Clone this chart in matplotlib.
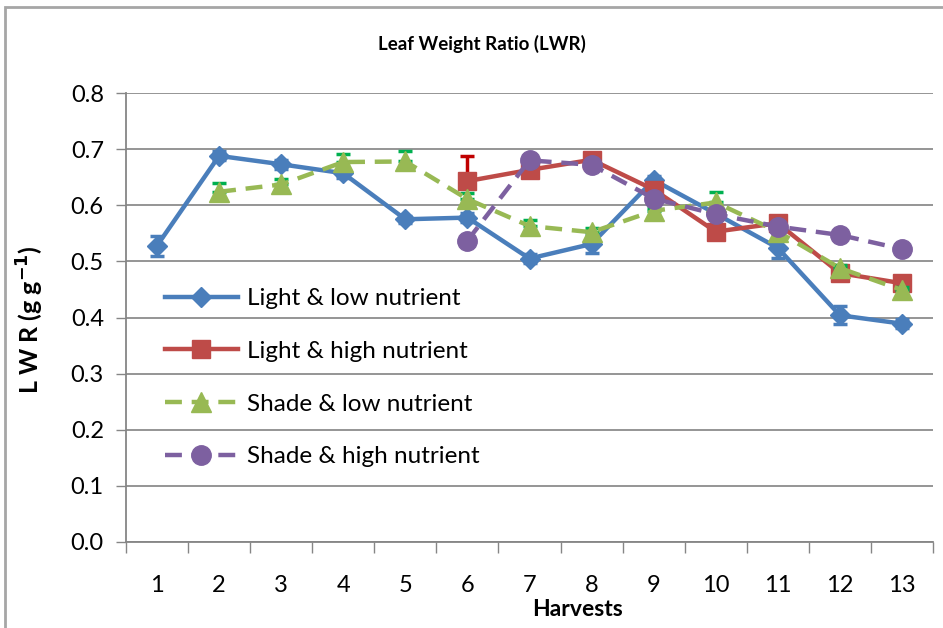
import matplotlib
matplotlib.use("Agg")
import matplotlib.pyplot as plt
from matplotlib.patches import Rectangle
from matplotlib.lines import Line2D

plt.rcParams['font.family'] = ['Lato', 'DejaVu Sans']

harvests = list(range(1, 14))
tick_labels = [str(h) for h in harvests]

# Light & low nutrient
x_ll = list(range(1, 14))
y_ll = [0.528, 0.688, 0.673, 0.657, 0.575, 0.578, 0.505, 0.531, 0.645, 0.585, 0.524, 0.404, 0.389]
e_ll = [0.018, 0.008, 0.008, 0.008, 0.006, 0.008, 0.008, 0.016, 0.008, 0.010, 0.018, 0.016, 0.008]

# Light & high nutrient
x_lh = list(range(6, 14))
y_lh = [0.643, 0.663, 0.681, 0.628, 0.553, 0.568, 0.479, 0.461]
e_lh = [0.045, 0.005, 0.005, 0.005, 0.005, 0.005, 0.005, 0.005]

# Shade & low nutrient
x_sl = list(range(2, 14))
y_sl = [0.624, 0.637, 0.677, 0.678, 0.611, 0.563, 0.552, 0.590, 0.605, 0.553, 0.488, 0.449]
e_sl = [0.015, 0.010, 0.015, 0.018, 0.010, 0.010, 0.008, 0.005, 0.018, 0.005, 0.005, 0.005]

# Shade & high nutrient
x_sh = list(range(6, 14))
y_sh = [0.537, 0.680, 0.672, 0.612, 0.584, 0.562, 0.547, 0.522]

series_names = ['Light & low nutrient', 'Light & high nutrient',
                'Shade & low nutrient', 'Shade & high nutrient']

W, H = 943, 628
fig = plt.figure(figsize=(W / 100, H / 100), dpi=100)
ax = fig.add_axes([126 / W, 1 - 542 / H, (933 - 126) / W, (542 - 93) / H])

# outer chart border
fig.patches.append(Rectangle((5 / W, -0.01), 1.0, 1 - 7 / H + 0.01, transform=fig.transFigure,
                             fill=False, edgecolor='#a6a6a6', linewidth=2))

blue, red, green, purple = '#4A7EBB', '#BE4B48', '#98B954', '#7D60A0'
dash = (0, (3.8, 2.2))

ax.errorbar(x_ll, y_ll, yerr=e_ll, color=blue, lw=3.2, marker='D', ms=10,
            capsize=5, elinewidth=2, capthick=2.5, zorder=3)
ax.errorbar(x_lh, y_lh, yerr=[[0] * len(e_lh), e_lh], color=red, lw=3.2, marker='s', ms=13,
            ecolor='#C00000', capsize=5, elinewidth=2.5, capthick=2.5, zorder=4)
ax.errorbar(x_sl, y_sl, yerr=[[0] * len(e_sl), e_sl], color=green, lw=3.2, marker='^', ms=14,
            ls=dash, ecolor='#00B050', capsize=5, elinewidth=2, capthick=2.5, zorder=5)
ax.plot(x_sh, y_sh, color=purple, lw=3.2, marker='o', ms=14, ls=dash, zorder=6)

handles = [
    Line2D([], [], color=blue, lw=3.2, marker='D', ms=10),
    Line2D([], [], color=red, lw=3.2, marker='s', ms=13),
    Line2D([], [], color=green, lw=3.2, marker='^', ms=14, ls=dash),
    Line2D([], [], color=purple, lw=3.2, marker='o', ms=14, ls=dash),
]

ax.set_xlim(0.5, 13.5)
ax.set_ylim(0, 0.8)
ax.set_yticks([i / 10 for i in range(9)])
ax.set_yticklabels([f'{i / 10:.1f}' for i in range(9)])
ax.set_xticks(harvests)
ax.set_xticklabels(tick_labels)
ax.set_xticks([h + 0.5 for h in range(0, 14)], minor=True)
ax.tick_params(axis='x', which='major', length=0, pad=24, labelsize=17)
ax.tick_params(axis='x', which='minor', length=8, color='#868686', width=1)
ax.tick_params(axis='y', length=7, color='#868686', width=1, pad=9, labelsize=17)

ax.grid(axis='y', color='#8c8c8c', lw=1.3)
ax.set_axisbelow(True)
for s in ['top', 'right']:
    ax.spines[s].set_visible(False)
for s in ['left', 'bottom']:
    ax.spines[s].set_color('#868686')
    ax.spines[s].set_linewidth(1.3)

fig.text(482 / W, 1 - 44 / H, 'Leaf Weight Ratio (LWR)', ha='center', va='center',
         fontsize=13.5, fontweight='bold')
fig.text(578 / W, 1 - 609 / H, 'Harvests', ha='center', va='center',
         fontsize=16.5, fontweight='bold')
fig.text(30 / W, 1 - 320 / H, 'L W R (g g$^{\\mathbf{-1}}$)', ha='center', va='center',
         rotation=90, fontsize=18, fontweight='bold')

ax.legend(handles, series_names, loc='upper left', bbox_to_anchor=(0.048, 0.565),
          frameon=False, fontsize=17.5, handlelength=3.0, handletextpad=0.4,
          labelspacing=1.3, borderpad=0, borderaxespad=0)

fig.savefig('out.png', dpi=100)
